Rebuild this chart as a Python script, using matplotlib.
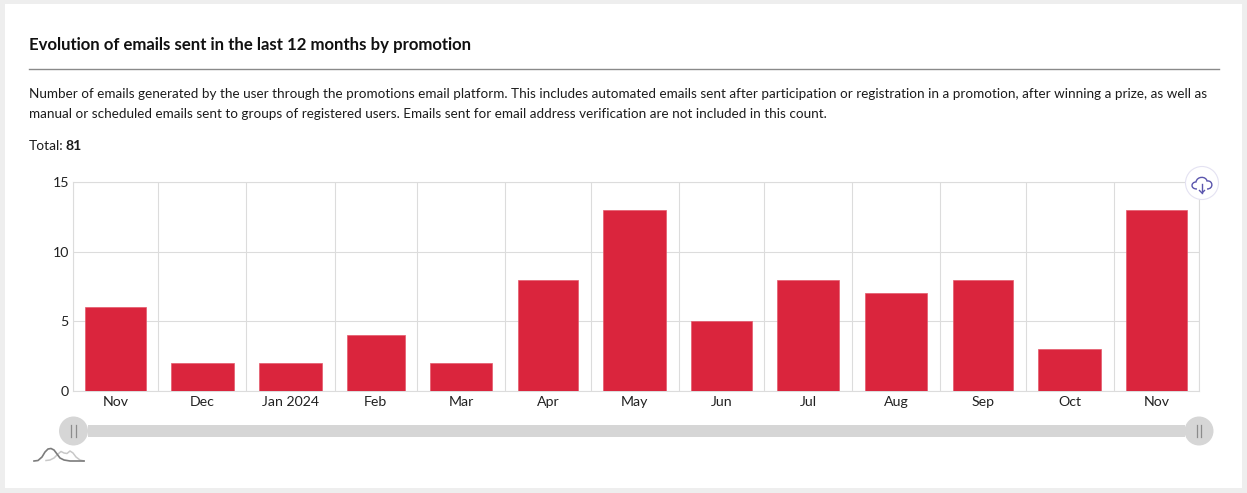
"""
Evolution of emails sent by promotion - monthly bars on a date axis
"""
import matplotlib
matplotlib.use('Agg')
import matplotlib.pyplot as plt
import matplotlib.dates as mdates
import pandas as pd
from matplotlib.patches import Circle, PathPatch, Rectangle
from matplotlib.path import Path

plt.rcParams['font.family'] = ['Lato', 'DejaVu Sans']

# data
month_edges = pd.date_range('2023-11-01', '2024-12-01', freq='MS')
month_labels = ['Nov', 'Dec', 'Jan 2024', 'Feb', 'Mar', 'Apr', 'May', 'Jun', 'Jul', 'Aug', 'Sep', 'Oct', 'Nov']
emails_sent = [6, 2, 2, 4, 2, 8, 13, 5, 8, 7, 8, 3, 13]
y_ticks = [0, 5, 10, 15]
total_emails = 81

title = 'Evolution of emails sent in the last 12 months by promotion'
desc_line1 = ('Number of emails generated by the user through the promotions email platform. This includes automated '
              'emails sent after participation or registration in a promotion, after winning a prize, as well as')
desc_line2 = ('manual or scheduled emails sent to groups of registered users. Emails sent for email address '
              'verification are not included in this count.')

W, H = 1247, 493
BAR_RED = '#da253d'
GRID = '#dcdcdc'
TEXT = '#1c1c1c'

fig = plt.figure(figsize=(W / 100, H / 100), dpi=100, facecolor='#eeeeee')

# overlay in pixel coordinates for the card and the page text
page = fig.add_axes([0, 0, 1, 1], zorder=0)
page.set_xlim(0, W)
page.set_ylim(H, 0)
page.axis('off')
page.add_patch(Rectangle((5, 4), 1237, 484, facecolor='white', edgecolor='none'))

page.text(29, 45, title, fontsize=12.05, fontweight='bold', color='#111111', va='center')
page.plot([29, 1219], [69, 69], color='#8a8a8a', lw=1)
page.text(29, 94.5, desc_line1, fontsize=9.72, color=TEXT, va='center')
page.text(29, 113.5, desc_line2, fontsize=9.72, color=TEXT, va='center')
page.text(29, 146.5, 'Total:', fontsize=9.9, color=TEXT, va='center')
page.text(65, 146.5, str(total_emails), fontsize=10.2, fontweight='bold', color=TEXT, va='center')

# chart
ax = fig.add_axes([73 / W, 1 - 391 / H, (1199 - 73) / W, (391 - 182) / H], zorder=1)
ax.patch.set_alpha(0)

starts = mdates.date2num(month_edges[:-1])
ends = mdates.date2num(month_edges[1:])
centers = (starts + ends) / 2
widths = (ends - starts) * 0.71

ax.bar(centers, emails_sent, width=widths, color=BAR_RED, edgecolor='#e4596b', linewidth=0.5, zorder=3)

ax.set_xlim(starts[0], ends[-1])
ax.set_ylim(0, 15)
ax.set_yticks(y_ticks)
ax.set_xticks(mdates.date2num(month_edges))
ax.set_xticklabels([])
ax.set_xticks(centers, minor=True)
ax.set_xticklabels(month_labels, minor=True)
ax.tick_params(axis='x', which='major', length=0)
ax.tick_params(axis='x', which='minor', length=0, pad=3.5, labelsize=10.2, labelcolor='#222222')
ax.tick_params(axis='y', length=0, pad=3, labelsize=10.2, labelcolor='#222222')
ax.grid(True, which='major', color=GRID, lw=0.8, zorder=0)
ax.set_axisbelow(True)
for spine in ax.spines.values():
    spine.set_color(GRID)
    spine.set_linewidth(0.8)

# range slider under the chart, top overlay
top = fig.add_axes([0, 0, 1, 1], zorder=2)
top.set_xlim(0, W)
top.set_ylim(H, 0)
top.axis('off')
top.patch.set_alpha(0)

top.add_patch(Rectangle((88, 425), 1097, 12, facecolor='#d6d6d6', edgecolor='none'))
for cx in (73.5, 1199):
    top.add_patch(Circle((cx, 431), 14.5, facecolor='#d6d6d6', edgecolor='none', zorder=3))
    top.plot([cx - 2.2, cx - 2.2], [425, 437], color='#8c8c8c', lw=0.9, zorder=4)
    top.plot([cx + 2.2, cx + 2.2], [425, 437], color='#8c8c8c', lw=0.9, zorder=4)

# small density icon under the left handle
light_x = [46, 50, 54, 58, 61, 64, 67, 70, 73, 76, 80, 84]
light_y = [460.5, 460, 458, 454, 451.5, 453, 453.5, 451, 453, 457, 460, 461]
dark_x = [34, 38, 42, 45, 48, 51, 54, 57, 60, 64, 70, 78, 84]
dark_y = [461, 460.5, 457, 452, 449, 448.5, 450, 454, 458, 460, 461, 461, 461]
top.plot(light_x, light_y, color='#c8c8c8', lw=1.1)
top.plot(dark_x, dark_y, color='#7c7c7c', lw=1.2)

# download button
top.add_patch(Circle((1202, 183), 16.5, facecolor='white', edgecolor='#e4e2f2', lw=0.8, zorder=3))
cloud = Path(
    [(1197, 189), (1190, 189), (1191, 182), (1196, 182),
     (1197, 176), (1206, 176), (1207, 181),
     (1213, 180), (1214, 189), (1207, 189)],
    [Path.MOVETO, Path.CURVE4, Path.CURVE4, Path.CURVE4,
     Path.CURVE4, Path.CURVE4, Path.CURVE4,
     Path.CURVE4, Path.CURVE4, Path.CURVE4])
top.add_patch(PathPatch(cloud, facecolor='none', edgecolor='#5a55ad', lw=1, zorder=4))
top.plot([1202, 1202], [184, 193], color='#5a55ad', lw=1, zorder=4)
top.plot([1199.5, 1202, 1204.5], [190.5, 193, 190.5], color='#5a55ad', lw=1, zorder=4)

fig.savefig('out.png', dpi=100, facecolor=fig.get_facecolor())
